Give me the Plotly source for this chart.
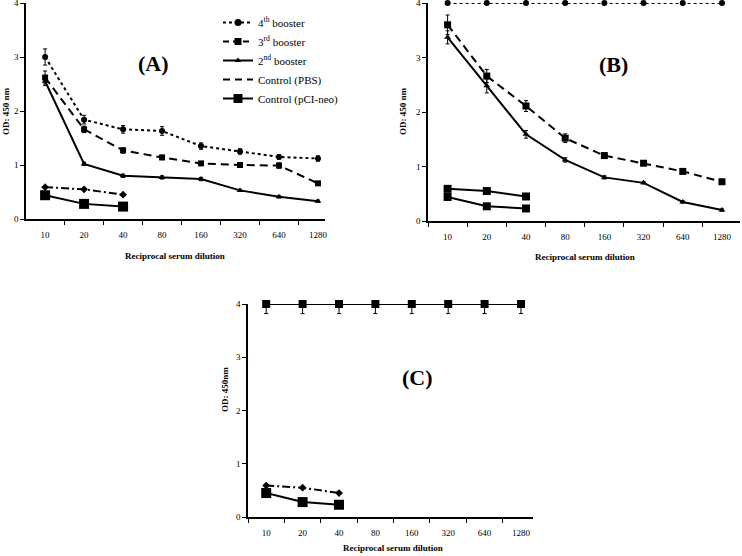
import plotly.graph_objects as go

dilutions = ["10", "20", "40", "80", "160", "320", "640", "1280"]
ctrl_dil = ["10", "20", "40"]

# Panel A
a_b4 = [3.00, 1.84, 1.66, 1.63, 1.35, 1.25, 1.15, 1.12]
a_b4_err = [0.15, 0.08, 0.07, 0.08, 0.06, 0.05, 0.04, 0.05]
a_b3 = [2.62, 1.66, 1.27, 1.14, 1.03, 1.00, 0.99, 0.66]
a_b3_err = [0.12, 0.06, 0.05, 0.04, 0.03, 0.03, 0.05, 0.03]
a_b2 = [2.55, 1.02, 0.80, 0.77, 0.74, 0.53, 0.41, 0.33]
a_b2_err = [0.08, 0.03, 0.03, 0.03, 0.03, 0.02, 0.02, 0.02]
a_pbs = [0.59, 0.55, 0.45]
a_pci = [0.44, 0.28, 0.23]

# Panel B
b_b4 = [4.0, 4.0, 4.0, 4.0, 4.0, 4.0, 4.0, 4.0]
b_b3 = [3.60, 2.66, 2.11, 1.52, 1.20, 1.06, 0.91, 0.72]
b_b3_err = [0.18, 0.12, 0.10, 0.08, 0.05, 0.03, 0.03, 0.03]
b_b2 = [3.37, 2.48, 1.59, 1.12, 0.80, 0.70, 0.35, 0.20]
b_b2_err = [0.12, 0.13, 0.07, 0.04, 0.03, 0.02, 0.02, 0.02]
b_pbs = [0.59, 0.55, 0.45]
b_pci = [0.44, 0.27, 0.23]

# Panel C
c_top = [4.0, 4.0, 4.0, 4.0, 4.0, 4.0, 4.0, 4.0]
c_top_err_minus = [0.18, 0.18, 0.18, 0.18, 0.18, 0.18, 0.18, 0.18]
c_pbs = [0.59, 0.55, 0.45]
c_pci = [0.45, 0.28, 0.23]

FONT = "Liberation Serif"
BLK = "#000000"

fig = go.Figure()

def err(vals):
    return dict(type="data", array=vals, visible=True, color=BLK, thickness=1, width=2)

def add(x, y, xa, ya, dash, symbol, msize, lw=2, e=None, **kw):
    fig.add_trace(go.Scatter(
        x=x, y=y, xaxis=xa, yaxis=ya, mode="lines+markers",
        line=dict(color=BLK, width=lw, dash=dash),
        marker=dict(color=BLK, symbol=symbol, size=msize),
        error_y=e, showlegend=False, cliponaxis=False, **kw))

# Panel A traces
add(dilutions, a_b4, "x", "y", "dot", "circle", 6, e=err(a_b4_err))
add(dilutions, a_b3, "x", "y", "8px,5px", "square", 6, e=err(a_b3_err))
add(dilutions, a_b2, "x", "y", "solid", "triangle-up", 6, e=err(a_b2_err))
add(ctrl_dil, a_pbs, "x", "y", "8px,3px,2px,3px", "diamond", 6)
add(ctrl_dil, a_pci, "x", "y", "solid", "square", 10)

# Panel B traces
add(dilutions, b_b4, "x2", "y2", "dot", "circle", 6)
add(dilutions, b_b3, "x2", "y2", "8px,5px", "square", 7, e=err(b_b3_err))
add(dilutions, b_b2, "x2", "y2", "solid", "triangle-up", 6, e=err(b_b2_err))
add(ctrl_dil, b_pbs, "x2", "y2", "solid", "square", 8)
add(ctrl_dil, b_pci, "x2", "y2", "solid", "square", 8)

# Panel C traces
add(dilutions, c_top, "x3", "y3", "solid", "square", 8,
    e=dict(type="data", symmetric=False, array=[0] * 8, arrayminus=c_top_err_minus,
           visible=True, color=BLK, thickness=1, width=2))
add(ctrl_dil, c_pbs, "x3", "y3", "8px,3px,2px,3px", "diamond", 6)
add(ctrl_dil, c_pci, "x3", "y3", "solid", "square", 10)

# Legend-only entries
legend_items = [
    ("4<sup>th</sup> booster", "dot", "circle", 7, "lines+markers"),
    ("3<sup>rd</sup> booster", "6px,4px", "square", 7, "lines+markers"),
    ("2<sup>nd</sup> booster", "solid", "triangle-up", 6, "lines+markers"),
    ("Control (PBS)", "7px,5px", "circle", 1, "lines"),
    ("Control (pCI-neo)", "solid", "square", 9, "lines+markers"),
]
for name, dash, sym, ms, mode in legend_items:
    fig.add_trace(go.Scatter(x=[None], y=[None], xaxis="x", yaxis="y", mode=mode, name=name,
                             line=dict(color=BLK, width=2, dash=dash),
                             marker=dict(color=BLK, symbol=sym, size=ms)))

W, H = 742, 556
def px(x): return x / W
def py(y): return 1 - y / H

xcommon = dict(type="category", showline=True, linecolor=BLK, linewidth=1.5,
               ticks="outside", ticklen=4, tickcolor=BLK, tickson="boundaries",
               showgrid=False, zeroline=False, categoryorder="array",
               categoryarray=dilutions, automargin=False,
               tickfont=dict(family=FONT, size=9, color=BLK), ticklabelstandoff=6)
ycommon = dict(showline=True, linecolor=BLK, linewidth=1.5, ticks="outside", ticklen=4,
               tickcolor=BLK, showgrid=False, zeroline=False, range=[0, 4], automargin=False,
               ticklabeloverflow="allow",
               tickvals=[0, 1, 2, 3, 4], tickfont=dict(family=FONT, size=9, color=BLK))

fig.update_layout(
    width=W, height=H, margin=dict(l=0, r=0, t=0, b=0, pad=0, autoexpand=False),
    paper_bgcolor="white", plot_bgcolor="white",
    font=dict(family=FONT, color=BLK),
    xaxis=dict(xcommon, domain=[px(26), px(325)], range=[-0.49, 7.18], anchor="y"),
    yaxis=dict(ycommon, domain=[py(219), py(3)], anchor="x"),
    xaxis2=dict(xcommon, domain=[px(428), px(740)], range=[-0.5, 7.46], anchor="y2"),
    yaxis2=dict(ycommon, domain=[py(221), py(3)], anchor="x2"),
    xaxis3=dict(xcommon, domain=[px(248), px(533)], range=[-0.5, 7.33], anchor="y3"),
    yaxis3=dict(ycommon, domain=[py(517), py(304)], anchor="x3"),
    showlegend=True,
    legend=dict(x=px(218), y=py(8), xanchor="left", yanchor="top",
                bgcolor="rgba(0,0,0,0)", font=dict(family=FONT, size=11, color=BLK),
                tracegroupgap=0, itemwidth=30),
)

ann = []
def text(x, y, t, size, angle=0):
    ann.append(dict(x=px(x), y=py(y), xref="paper", yref="paper", text=t, showarrow=False,
                    textangle=angle, font=dict(family=FONT, size=size, color=BLK),
                    xanchor="center", yanchor="middle"))

text(153, 64, "<b>(A)</b>", 22)
text(613, 65, "<b>(B)</b>", 22)
text(417, 377, "<b>(C)</b>", 22)
text(6, 111, "<b>OD: 450 nm</b>", 9, -90)
text(403, 111, "<b>OD: 450 nm</b>", 9, -90)
text(225, 390, "<b>OD: 450nm</b>", 9, -90)
text(175, 256, "<b>Reciprocal serum dilution</b>", 9)
text(585, 257, "<b>Reciprocal serum dilution</b>", 9)
text(393, 548, "<b>Reciprocal serum dilution</b>", 9)
fig.update_layout(annotations=ann)

fig.write_html("out.html", config={"displayModeBar": False},
               post_script="document.body.style.margin='0';document.body.style.padding='0';")
